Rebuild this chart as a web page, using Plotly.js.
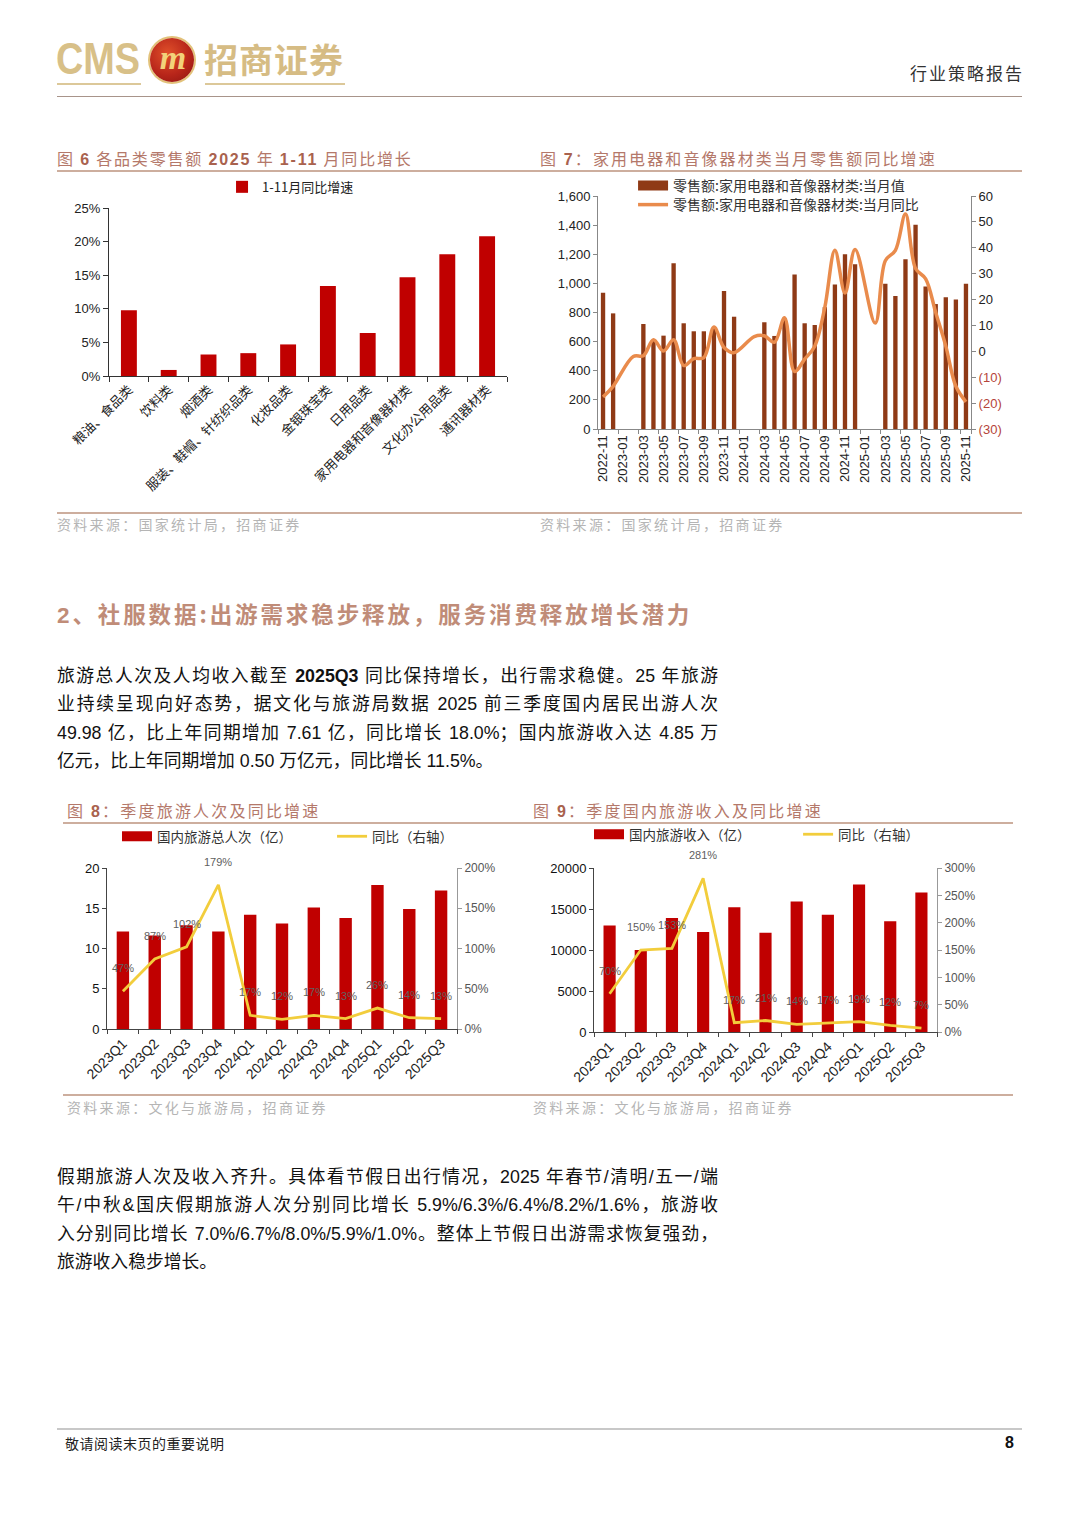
<!DOCTYPE html>
<html><head><meta charset="utf-8">
<script src="https://cdn.plot.ly/plotly-3.0.1.min.js"></script>
<style>
body{margin:0;background:#fff;width:1080px;height:1527px;position:relative;overflow:hidden;font-family:"Liberation Sans","Noto Sans CJK SC",sans-serif;color:#111;}
.abs{position:absolute;}
.hline{position:absolute;height:0;}
.ftitle{position:absolute;font-size:16px;color:#B4786A;letter-spacing:1.8px;white-space:nowrap;line-height:20px;font-family:"Noto Sans CJK SC",sans-serif;}
.ftitle b{font-family:"Liberation Sans",sans-serif;color:#A9624E;}
.src{position:absolute;font-size:14px;color:#B5B5B5;letter-spacing:2.3px;white-space:nowrap;line-height:18px;font-family:"Noto Sans CJK SC",sans-serif;}
.para{position:absolute;left:57px;width:661px;font-size:17.8px;line-height:28.4px;letter-spacing:0;}
.para div{text-align:justify;text-align-last:justify;height:28.4px;}
.para div.last{text-align-last:left;}
.chart{position:absolute;}
</style></head><body>

<!-- header -->
<div class="abs" style="left:56px;top:33px;font-family:'Liberation Sans',sans-serif;font-weight:bold;font-size:44px;color:#D8C088;line-height:52px;transform:scaleX(0.86);transform-origin:0 0;">CMS</div>
<div class="abs" style="left:150px;top:38px;width:44px;height:44px;border-radius:50%;background:radial-gradient(circle at 40% 35%,#E0502A 0%,#B8261A 55%,#8A1410 100%);box-shadow:0 0 0 2px #E2C27A;"></div>
<div class="abs" style="left:156px;top:36px;width:34px;text-align:center;font-family:'Liberation Serif',serif;font-style:italic;font-weight:bold;font-size:34px;color:#F2D27A;line-height:44px;">m</div>
<div class="abs" style="left:204px;top:36px;font-family:'Noto Sans CJK SC',sans-serif;font-weight:bold;font-size:34px;color:#D6BC84;letter-spacing:1px;line-height:46px;">招商证券</div>
<div class="hline" style="left:57px;top:83px;width:84px;border-top:2px solid #DCC899;"></div>
<div class="hline" style="left:205px;top:83px;width:140px;border-top:2px solid #DCC899;"></div>
<div class="abs" style="left:910px;top:62px;font-family:'Noto Sans CJK SC',sans-serif;font-size:17px;color:#333;letter-spacing:2px;line-height:22px;">行业策略报告</div>
<div class="hline" style="left:57px;top:96px;width:965px;border-top:1px solid #A8948A;"></div>

<!-- figure 6 / 7 frame -->
<div class="ftitle" style="left:57px;top:148px;">图 <b>6</b> 各品类零售额 <b>2025</b> 年 <b>1-11</b> 月同比增长</div>
<div class="ftitle" style="left:540px;top:148px;letter-spacing:2.1px;">图 <b>7</b>：家用电器和音像器材类当月零售额同比增速</div>
<div class="hline" style="left:57px;top:170px;width:965px;border-top:2px solid #CDAE9E;"></div>
<div class="hline" style="left:57px;top:512px;width:965px;border-top:2px solid #CDAE9E;"></div>
<div class="src" style="left:57px;top:515px;">资料来源：国家统计局，招商证券</div>
<div class="src" style="left:540px;top:515px;">资料来源：国家统计局，招商证券</div>

<div id="c6" class="chart" style="left:55px;top:172px;width:470px;height:340px;"></div>
<div id="c7" class="chart" style="left:535px;top:172px;width:490px;height:340px;"></div>

<!-- section -->
<div class="abs" style="left:57px;top:598px;font-family:'Noto Sans CJK SC',sans-serif;font-weight:bold;font-size:22.5px;color:#C08C78;letter-spacing:2.9px;line-height:30px;white-space:nowrap;"><span style="font-family:'Liberation Sans',sans-serif;">2</span>、社服数据:出游需求稳步释放，服务消费释放增长潜力</div>

<div class="para" style="top:662px;">
<div>旅游总人次及人均收入截至 <b>2025Q3</b> 同比保持增长，出行需求稳健。25 年旅游</div>
<div>业持续呈现向好态势，据文化与旅游局数据 2025 前三季度国内居民出游人次</div>
<div>49.98 亿，比上年同期增加 7.61 亿，同比增长 18.0%；国内旅游收入达 4.85 万</div>
<div class="last">亿元，比上年同期增加 0.50 万亿元，同比增长 11.5%。</div>
</div>

<!-- figure 8 / 9 frame -->
<div class="ftitle" style="left:67px;top:800px;letter-spacing:2.2px;">图 <b>8</b>：季度旅游人次及同比增速</div>
<div class="ftitle" style="left:533px;top:800px;letter-spacing:2.2px;">图 <b>9</b>：季度国内旅游收入及同比增速</div>
<div class="hline" style="left:63px;top:822px;width:950px;border-top:2px solid #CDAE9E;"></div>
<div class="hline" style="left:63px;top:1094px;width:950px;border-top:2px solid #CDAE9E;"></div>
<div class="src" style="left:67px;top:1098px;">资料来源：文化与旅游局，招商证券</div>
<div class="src" style="left:533px;top:1098px;">资料来源：文化与旅游局，招商证券</div>

<div id="c8" class="chart" style="left:60px;top:818px;width:470px;height:275px;"></div>
<div id="c9" class="chart" style="left:530px;top:818px;width:490px;height:275px;"></div>

<div class="para" style="top:1163px;">
<div>假期旅游人次及收入齐升。具体看节假日出行情况，2025 年春节/清明/五一/端</div>
<div>午/中秋&amp;国庆假期旅游人次分别同比增长 5.9%/6.3%/6.4%/8.2%/1.6%，旅游收</div>
<div>入分别同比增长 7.0%/6.7%/8.0%/5.9%/1.0%。整体上节假日出游需求恢复强劲，</div>
<div class="last">旅游收入稳步增长。</div>
</div>

<!-- footer -->
<div class="hline" style="left:57px;top:1428px;width:965px;border-top:2px solid #C8C8C8;"></div>
<div class="abs" style="left:65px;top:1433px;font-family:'Noto Sans CJK SC',sans-serif;font-size:14px;color:#222;letter-spacing:0.5px;line-height:20px;">敬请阅读末页的重要说明</div>
<div class="abs" style="left:1005px;top:1432px;font-weight:bold;font-size:16px;color:#111;line-height:22px;">8</div>

<script>
// ---------- Figure 6 data ----------
const cat6 = ['粮油、食品类','饮料类','烟酒类','服装、鞋帽、针纺织品类','化妆品类','金银珠宝类','日用品类','家用电器和音像器材类','文化办公用品类','通讯器材类'];
const val6 = [9.8, 0.9, 3.2, 3.4, 4.7, 13.4, 6.4, 14.7, 18.1, 20.8];
const name6 = '1-11月同比增速';

// ---------- Figure 7 data ----------
const months7 = ['2022-11','2022-12','2023-01','2023-02','2023-03','2023-04','2023-05','2023-06','2023-07','2023-08','2023-09','2023-10','2023-11','2023-12',
 '2024-01','2024-02','2024-03','2024-04','2024-05','2024-06','2024-07','2024-08','2024-09','2024-10','2024-11','2024-12',
 '2025-01','2025-02','2025-03','2025-04','2025-05','2025-06','2025-07','2025-08','2025-09','2025-10','2025-11'];
const sales7 = [936, 794, null, null, 721, 612, 641, 1139, 726, 671, 671, 695, 947, 771,
 null, null, 733, 639, 760, 1061, 726, 714, 837, 993, 1200, 1132,
 null, null, 997, 913, 1166, 1403, 979, 858, 904, 890, 997];
const yoy7 = [-17.6, -13.5, null, -2.0, -1.7, 4.5, 0.1, 4.5, -5.5, -2.8, -2.4, 9.4, 1.5, -0.5,
 null, 5.7, 6.0, 3.5, 13.0, -7.8, -3.0, 2.0, 17.0, 39.0, 22.5, 39.3,
 null, 10.9, 35.0, 39.0, 53.0, 32.0, 28.0, 15.0, 2.0, -13.5, -19.5];
const name7a = '零售额:家用电器和音像器材类:当月值';
const name7b = '零售额:家用电器和音像器材类:当月同比';
const right7 = [60, 50, 40, 30, 20, 10, 0, -10, -20, -30];

// ---------- Figure 8 / 9 data ----------
const quarters = ['2023Q1','2023Q2','2023Q3','2023Q4','2024Q1','2024Q2','2024Q3','2024Q4','2025Q1','2025Q2','2025Q3'];
const trips8 = [12.1, 11.6, 12.9, 12.1, 14.2, 13.1, 15.1, 13.8, 17.9, 14.9, 17.2];
const yoy8 = [47, 87, 102, 179, 17, 12, 17, 13, 26, 14, 13];
const name8a = '国内旅游总人次（亿）';
const name8b = '同比（右轴）';
const rev9 = [13000, 10000, 13900, 12200, 15200, 12100, 15900, 14300, 18000, 13500, 17000];
const yoy9 = [70, 150, 153, 281, 17, 21, 14, 17, 19, 12, 7];
const name9a = '国内旅游收入（亿）';
const name9b = '同比（右轴）';

const RED = '#C00000', YEL = '#F2CD3C', BROWN = '#8F3A16', ORANGE = '#E98B4C';
const NUM = 'Liberation Sans, Arial, sans-serif';
const CJK = 'Noto Sans CJK SC, sans-serif';
const cfg = {staticPlot: true, displayModeBar: false};
const clear = 'rgba(0,0,0,0)';

// ---------- Chart 6 ----------
Plotly.newPlot('c6', [{
  type: 'bar', x: cat6, y: val6, name: name6, width: 0.4,
  marker: {color: RED}, showlegend: true
}], {
  width: 470, height: 340, margin: {l: 54, r: 18, t: 36, b: 136, autoexpand: false},
  paper_bgcolor: clear, plot_bgcolor: clear,
  xaxis: {type: 'category', tickangle: -45, tickson: 'boundaries', ticks: 'outside', ticklen: 5,
    tickcolor: '#333', showline: true, linecolor: '#333', linewidth: 1, showgrid: false,
    tickfont: {family: CJK, size: 13, color: '#222'}, automargin: false},
  yaxis: {range: [0, 25], dtick: 5, ticksuffix: '%', ticks: 'outside', ticklen: 5, tickcolor: '#333',
    showline: true, linecolor: '#333', showgrid: false, zeroline: false,
    tickfont: {family: NUM, size: 13, color: '#222'}, automargin: false},
  showlegend: true,
  legend: {x: 0.284, y: 1.215, xanchor: 'left', yanchor: 'top',
    orientation: 'h', font: {family: CJK, size: 13, color: '#222'}, bgcolor: clear}
}, cfg);

// ---------- Chart 7 ----------
const ticks7 = months7.filter((m, i) => i % 2 === 0);
const rightText7 = right7.map(v => v < 0 ? '<span style="color:#B5443A">(' + (-v) + ')</span>' : String(v));
Plotly.newPlot('c7', [
  {type: 'bar', x: months7, y: sales7, width: 0.43, marker: {color: BROWN}, showlegend: false, name: name7a},
  {type: 'scatter', mode: 'lines', x: [months7[0]], y: [null], name: name7a, line: {color: BROWN, width: 10}, legend: 'legend'},
  {type: 'scatter', mode: 'lines', x: months7, y: yoy7, yaxis: 'y2', name: name7b, connectgaps: true, legend: 'legend2',
    line: {color: ORANGE, width: 3.5, shape: 'spline', smoothing: 1}}
], {
  width: 490, height: 340, margin: {l: 63, r: 54, t: 24, b: 83, autoexpand: false},
  paper_bgcolor: clear, plot_bgcolor: clear,
  xaxis: {type: 'category', tickmode: 'array', tickvals: ticks7, ticktext: ticks7, tickangle: -90,
    tickson: 'boundaries', ticks: 'outside', ticklen: 4, tickcolor: '#888', showline: true, linecolor: '#888',
    showgrid: false, tickfont: {family: NUM, size: 13, color: '#222'}, automargin: false},
  yaxis: {range: [0, 1600], dtick: 200, tickformat: ',d', ticks: 'outside', ticklen: 4, tickcolor: '#888',
    showline: true, linecolor: '#888', showgrid: false, zeroline: false,
    tickfont: {family: NUM, size: 13, color: '#222'}, automargin: false},
  yaxis2: {overlaying: 'y', side: 'right', range: [-30, 60], tickmode: 'array', tickvals: right7, ticktext: rightText7,
    ticks: 'outside', ticklen: 4, tickcolor: '#888', showline: true, linecolor: '#888', showgrid: false, zeroline: false,
    tickfont: {family: NUM, size: 13, color: '#222'}, automargin: false},
  showlegend: true,
  legend: {x: 0.094, y: 1.112, xanchor: 'left', yanchor: 'top', orientation: 'h',
    font: {family: CJK, size: 14, color: '#333'}, bgcolor: clear},
  legend2: {x: 0.094, y: 1.030, xanchor: 'left', yanchor: 'top', orientation: 'h',
    font: {family: CJK, size: 14, color: '#333'}, bgcolor: clear}
}, cfg);

// ---------- Chart 8 / 9 helper ----------
function dualChart(id, w, margin, bars, barName, yoy, lineName, yRange, yDtick, y2Range, y2Dtick, legX1, legX2, legY) {
  const ann = quarters.map((q, i) => ({
    x: q, y: yoy[i], xref: 'x', yref: 'y2', text: yoy[i] + '%', showarrow: false, yshift: 23,
    font: {family: NUM, size: 11, color: '#606060'}
  }));
  Plotly.newPlot(id, [
    {type: 'bar', x: quarters, y: bars, width: 0.39, marker: {color: RED}, showlegend: false, name: barName},
    {type: 'scatter', mode: 'lines', x: [quarters[0]], y: [null], name: barName, line: {color: RED, width: 10}, legend: 'legend'},
    {type: 'scatter', mode: 'lines', x: quarters, y: yoy, yaxis: 'y2', name: lineName, line: {color: YEL, width: 2.8}, legend: 'legend2'}
  ], {
    width: w, height: 275, margin: Object.assign({autoexpand: false}, margin),
    paper_bgcolor: clear, plot_bgcolor: clear,
    xaxis: {type: 'category', tickangle: -45, tickson: 'boundaries', ticks: 'outside', ticklen: 4, tickcolor: '#444',
      showline: true, linecolor: '#444', showgrid: false, tickfont: {family: NUM, size: 14, color: '#222'}, automargin: false},
    yaxis: {range: yRange, dtick: yDtick, tickformat: 'd', ticks: 'outside', ticklen: 4, tickcolor: '#444',
      showline: true, linecolor: '#444', showgrid: false, zeroline: false,
      tickfont: {family: NUM, size: 13, color: '#111'}, automargin: false},
    yaxis2: {overlaying: 'y', side: 'right', range: y2Range, dtick: y2Dtick, ticksuffix: '%', ticks: 'outside', ticklen: 4,
      tickcolor: '#999', showline: true, linecolor: '#999', showgrid: false, zeroline: false,
      tickfont: {family: NUM, size: 12, color: '#555'}, automargin: false},
    annotations: ann,
    showlegend: true,
    legend: {x: legX1, y: legY, xanchor: 'left', yanchor: 'top', orientation: 'h',
      font: {family: CJK, size: 13.5, color: '#333'}, bgcolor: clear},
    legend2: {x: legX2, y: legY, xanchor: 'left', yanchor: 'top', orientation: 'h',
      font: {family: CJK, size: 13.5, color: '#333'}, bgcolor: clear}
  }, cfg);
}
dualChart('c8', 470, {l: 47, r: 73, t: 50, b: 64}, trips8, name8a, yoy8, name8b, [0, 20], 5, [0, 200], 50, 0.0286, 0.643, 1.292);
dualChart('c9', 490, {l: 64, r: 83, t: 50, b: 61}, rev9, name9a, yoy9, name9b, [0, 20000], 5000, [0, 300], 50, -0.0146, 0.595, 1.299);
</script>
</body></html>
